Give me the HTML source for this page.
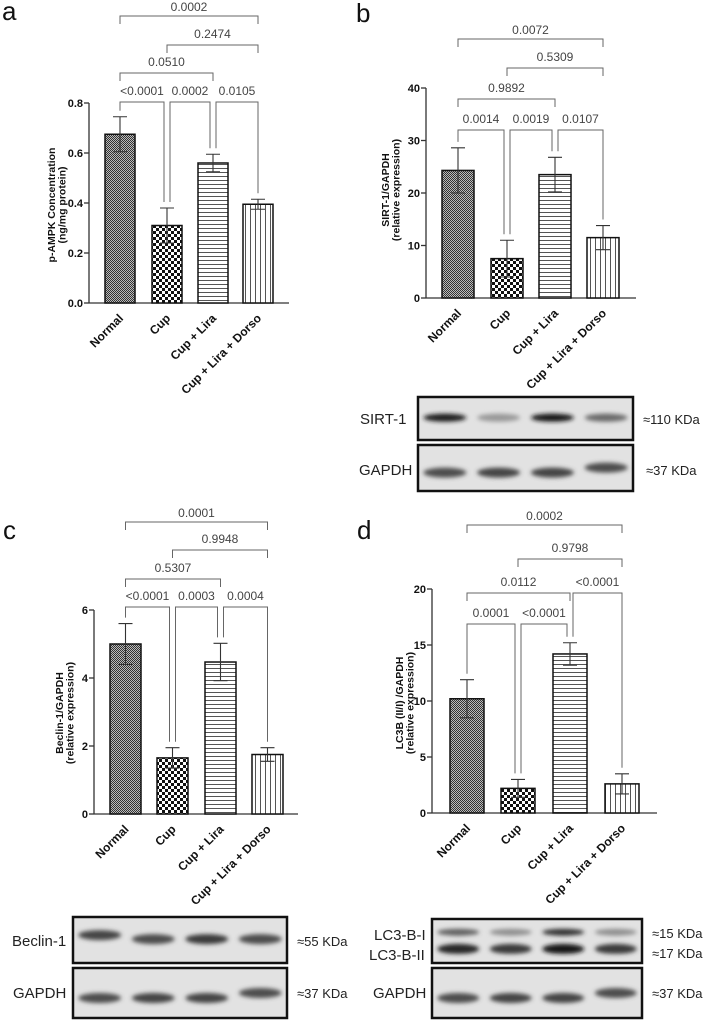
<!DOCTYPE html>
<html><head><meta charset="utf-8"><style>
html,body{margin:0;padding:0;background:#fff}
svg{display:block}
text{font-family:"Liberation Sans",Arial,sans-serif}
</style></head><body>
<svg id="fig" width="708" height="1023" viewBox="0 0 708 1023" xmlns="http://www.w3.org/2000/svg">
<defs>
<pattern id="pNormal" width="2" height="2" patternUnits="userSpaceOnUse"><rect width="2" height="2" fill="#bbb"/><rect width="1" height="1" fill="#333"/><rect x="1" y="1" width="1" height="1" fill="#333"/></pattern>
<pattern id="pCup" width="6" height="6" patternUnits="userSpaceOnUse"><rect width="6" height="6" fill="#fff"/><rect width="3" height="3" fill="#111"/><rect x="3" y="3" width="3" height="3" fill="#111"/></pattern>
<pattern id="pLira" width="4" height="4" patternUnits="userSpaceOnUse"><rect width="4" height="4" fill="#fff"/><rect y="0" width="4" height="1" fill="#555"/></pattern>
<pattern id="pDorso" width="5" height="5" patternUnits="userSpaceOnUse"><rect width="5" height="5" fill="#fff"/><rect x="0" width="1" height="5" fill="#555"/></pattern>
<filter id="blur" x="-30%" y="-100%" width="160%" height="300%"><feGaussianBlur stdDeviation="2.2"/></filter>
</defs>
</svg>
<script>
const categories = ["Normal","Cup","Cup + Lira","Cup + Lira + Dorso"];
const valuesA = [0.675,0.31,0.56,0.395];
const errorsA = [0.07,0.07,0.035,0.02];
const valuesB = [24.3,7.5,23.5,11.5];
const errorsB = [4.3,3.5,3.3,2.3];
const valuesC = [5.0,1.65,4.47,1.75];
const errorsC = [0.6,0.3,0.55,0.2];
const valuesD = [10.2,2.2,14.2,2.6];
const errorsD = [1.7,0.8,1.0,0.9];
const ticksA = ["0.0","0.2","0.4","0.6","0.8"];
const ticksB = ["0","10","20","30","40"];
const ticksC = ["0","2","4","6"];
const ticksD = ["0","5","10","15","20"];
// brackets: [from, to, label, row]
const bracketsA = [[0,1,"<0.0001",0],[1,2,"0.0002",0],[2,3,"0.0105",0],[0,2,"0.0510",1],[1,3,"0.2474",2],[0,3,"0.0002",3]];
const bracketsB = [[0,1,"0.0014",0],[1,2,"0.0019",0],[2,3,"0.0107",0],[0,2,"0.9892",1],[1,3,"0.5309",2],[0,3,"0.0072",3]];
const bracketsC = [[0,1,"<0.0001",0],[1,2,"0.0003",0],[2,3,"0.0004",0],[0,2,"0.5307",1],[1,3,"0.9948",2],[0,3,"0.0001",3]];
const bracketsD = [[0,1,"0.0001",0],[1,2,"<0.0001",0],[0,2,"0.0112",1],[2,3,"<0.0001",1],[1,3,"0.9798",2],[0,3,"0.0002",3]];
const blotSirt = [0.95,0.3,1.0,0.55];
const blotBeclin = [0.75,0.7,0.8,0.7];
const blotLc3I = [0.6,0.35,0.85,0.35];
const blotLc3II = [0.9,0.8,1.0,0.8];
const blotGapdh = [0.7,0.75,0.75,0.7];

const NS="http://www.w3.org/2000/svg";
const svg=document.getElementById('fig');
function mk(tag,attrs,parent){const e=document.createElementNS(NS,tag);for(const k in attrs)e.setAttribute(k,attrs[k]);(parent||svg).appendChild(e);return e;}
const fills=["url(#pNormal)","url(#pCup)","url(#pLira)","url(#pDorso)"];

function panel(cfg){
  const g=mk('g',{});
  
  
  const yScale=v=>cfg.y0-(v/cfg.max)*(cfg.y0-cfg.yTop);
  const xc=i=>cfg.bx[i]+cfg.bw/2;
  const letter=mk('text',{x:cfg.lx,y:cfg.ly,'font-size':26,fill:'#111'},g);letter.textContent=cfg.letter;
  
  
  const ya=mk('line',{x1:cfg.ax,y1:cfg.yTop,x2:cfg.ax,y2:cfg.y0,stroke:'#333','stroke-width':1.3},g);
  
  
  const xa=mk('line',{x1:cfg.ax,y1:cfg.y0,x2:cfg.axEnd,y2:cfg.y0,stroke:'#333','stroke-width':1.3},g);
  
  
  cfg.ticks.forEach((t,i)=>{
    const v=i*cfg.max/(cfg.ticks.length-1);const y=yScale(v);
    mk('line',{x1:cfg.ax-5,y1:y,x2:cfg.ax,y2:y,stroke:'#333','stroke-width':1.3},g);
    const tt=mk('text',{x:cfg.ax-6,y:y+4,'font-size':11,'font-weight':'bold','text-anchor':'end',fill:'#111'},g);tt.textContent=t;
    
    
  });
  const yt=mk('text',{transform:`translate(${cfg.ytx},${cfg.yty}) rotate(-90)`,'font-size':10.5,'font-weight':'bold','text-anchor':'middle',fill:'#111'},g);
  
  
  const t1=mk('tspan',{x:0,y:0},yt);t1.textContent=cfg.ytitle[0];
  const t2=mk('tspan',{x:0,y:10.5},yt);t2.textContent=cfg.ytitle[1];
  cfg.vals.forEach((v,i)=>{
    const top=yScale(v);
    const b=mk('rect',{x:cfg.bx[i],y:top,width:cfg.bw,height:cfg.y0-top,fill:fills[i],stroke:'#111','stroke-width':1.5},g);
    
    
    const e=cfg.errs[i];
    const eh=yScale(v+e),el=yScale(v-e),cx=xc(i);
    const eb=mk('path',{d:`M${cx},${el}V${eh}M${cx-7},${eh}H${cx+7}M${cx-7},${el}H${cx+7}`,stroke:'#333','stroke-width':1.1,fill:'none'},g);
    
    
    const xl=mk('text',{transform:`translate(${cx+4},${cfg.y0+16}) rotate(-45)`,'font-size':12,'font-weight':'bold','text-anchor':'end',fill:'#111'},g);
    xl.textContent=categories[i];
    
    
  });
  cfg.br.forEach(bk=>{
    const [a,b,lab,row]=bk;
    const y=cfg.rowY[row];
    const xa1=xc(a)+(row===0&&a>0?3:0)+(row===1&&a===2?3:0), xb1=xc(b)-(row===0&&b<3?3:0);
    let la,lb;
    if(row===0 || (cfg.letter==='d'&&row===1&&a===2)){
      la=yScale(cfg.vals[a]+cfg.errs[a])-6; lb=yScale(cfg.vals[b]+cfg.errs[b])-6;
    } else {la=y+8;lb=y+8;}
    const p=mk('path',{d:`M${xa1},${la}V${y}H${xb1}V${lb}`,stroke:'#666','stroke-width':1,fill:'none'},g);
    
    
    const t=mk('text',{x:(xa1+xb1)/2,y:y-(row===3?5:7),'font-size':12,'text-anchor':'middle',fill:'#444'},g);t.textContent=lab;
    
    
  });
}

panel({name:'panel-a-pampk',letter:'a',lx:2,ly:20,ax:89,axEnd:289,y0:303,yTop:103,max:0.8,ticks:ticksA,vals:valuesA,errs:errorsA,bx:[105,152,198,243],bw:30,ytx:55,yty:205,ytitle:["p-AMPK Concentration","(ng/mg protein)"],br:bracketsA,rowY:[102,73,45,16]});
panel({name:'panel-b-sirt1',letter:'b',lx:356,ly:22,ax:426,axEnd:636,y0:298,yTop:88,max:40,ticks:ticksB,vals:valuesB,errs:errorsB,bx:[442,491,539,587],bw:32,ytx:389,yty:190,ytitle:["SIRT-1/GAPDH","(relative expression)"],br:bracketsB,rowY:[130,99,68,39]});
panel({name:'panel-c-beclin1',letter:'c',lx:3,ly:539,ax:94,axEnd:298,y0:814,yTop:610,max:6,ticks:ticksC,vals:valuesC,errs:errorsC,bx:[110,157,205,252],bw:31,ytx:63,yty:713,ytitle:["Beclin-1/GAPDH","(relative expression)"],br:bracketsC,rowY:[607,579,550,522]});
panel({name:'panel-d-lc3b',letter:'d',lx:357,ly:539,ax:432,axEnd:657,y0:813,yTop:589,max:20,ticks:ticksD,vals:valuesD,errs:errorsD,bx:[450,501,553,605],bw:34,ytx:403,yty:703,ytitle:["LC3B (II/I) /GAPDH","(relative expression)"],br:bracketsD,rowY:[624,593,559,525]});

function blot(name,x,y,w,h,bands,label,kda){
  const g=mk('g',{});
  
  
  mk('rect',{x:x,y:y,width:w,height:h,fill:'#e2e2e2'},g);
  bands.forEach(bd=>{
    bd.vals.forEach((v,i)=>{
      const lw=w/4;const cx=x+lw*(i+0.5);
      const c=Math.round(210-190*v);
      mk('ellipse',{cx:cx,cy:y+h*bd.pos-(bd.up?bd.up[i]:0),rx:lw*0.4,ry:bd.ry,fill:`rgb(${c},${c},${c})`,filter:'url(#blur)'},g);
    });
  });
  const r=mk('rect',{x:x,y:y,width:w,height:h,fill:'none',stroke:'#111','stroke-width':2.5},g);
  
  
  label.forEach(l=>{const t=mk('text',{x:l[0],y:l[1],'font-size':15,fill:'#222'},g);t.textContent=l[2];
    
    });
  kda.forEach(l=>{const t=mk('text',{x:l[0],y:l[1],'font-size':13,fill:'#222'},g);t.textContent=l[2];
    
    });
}
const gUp=[0,0,0,5];
blot('blot-sirt1',418,397,215,43,[{vals:blotSirt,pos:0.48,ry:4}],[[360,424,'SIRT-1']],[[643,424,'≈110 KDa']]);
blot('blot-gapdh-b',418,445,215,46,[{vals:blotGapdh,pos:0.6,ry:5,up:gUp}],[[359,475,'GAPDH']],[[646,475,'≈37 KDa']]);
blot('blot-beclin1',73,917,214,46,[{vals:blotBeclin,pos:0.48,ry:5,up:[4,0,0,0]}],[[12,946,'Beclin-1']],[[297,946,'≈55 KDa']]);
blot('blot-gapdh-c',73,968,214,50,[{vals:blotGapdh,pos:0.6,ry:5,up:gUp}],[[13,998,'GAPDH']],[[297,998,'≈37 KDa']]);
blot('blot-lc3b',432,919,210,44,[{vals:blotLc3I,pos:0.3,ry:3.5},{vals:blotLc3II,pos:0.68,ry:5}],[[374,940,'LC3-B-I'],[369,960,'LC3-B-II']],[[652,938,'≈15 KDa'],[652,958,'≈17 KDa']]);
blot('blot-gapdh-d',432,968,210,50,[{vals:blotGapdh,pos:0.6,ry:5,up:gUp}],[[373,998,'GAPDH']],[[652,998,'≈37 KDa']]);
</script>
</body></html>
